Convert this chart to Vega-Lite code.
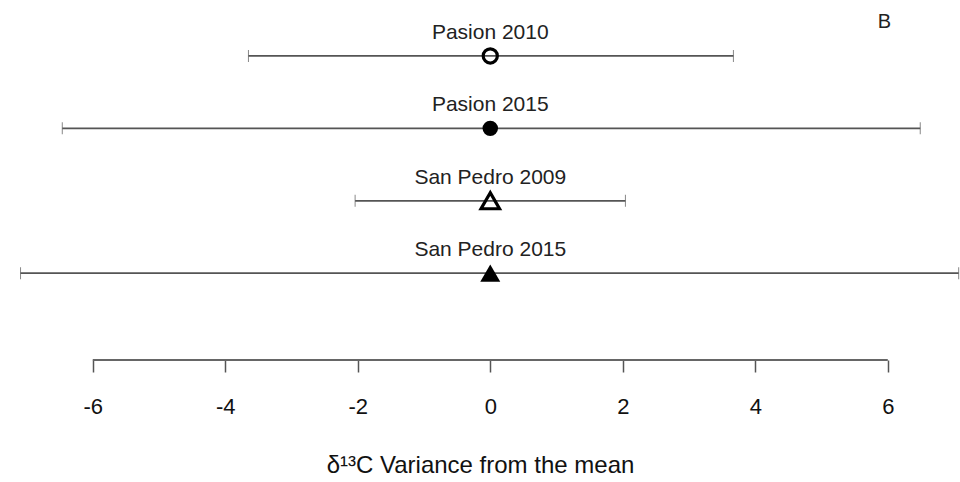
{
  "$schema": "https://vega.github.io/schema/vega-lite/v6.json",
  "width": 960,
  "height": 360,
  "autosize": {"type": "none"},
  "padding": {"left": 0, "top": 0, "right": 0, "bottom": 122},
  "config": {"view": {"stroke": null}, "font": "Liberation Sans"},
  "datasets": {
    "rows": [
      {"site": "Pasion 2010", "row": 4, "mean": 0, "lo": -3.65, "hi": 3.67, "shape": "circle", "filled": false},
      {"site": "Pasion 2015", "row": 3, "mean": 0, "lo": -6.46, "hi": 6.49, "shape": "circle", "filled": true},
      {"site": "San Pedro 2009", "row": 2, "mean": 0, "lo": -2.04, "hi": 2.04, "shape": "triangle-up", "filled": false},
      {"site": "San Pedro 2015", "row": 1, "mean": 0, "lo": -7.09, "hi": 7.07, "shape": "triangle-up", "filled": true}
    ]
  },
  "layer": [
    {
      "data": {"values": [{"a": -6, "b": 6, "y": -0.199}]},
      "mark": {"type": "rule", "color": "#666666", "strokeWidth": 2},
      "encoding": {
        "x": {"field": "a", "type": "quantitative", "scale": {"domain": [-7.4, 7.09], "nice": false, "zero": false},
          "axis": {"domain": false, "grid": false, "values": [-6, -4, -2, 0, 2, 4, 6], "labelExpr": "'' + datum.value", "tickSize": 12, "tickColor": "#555555", "tickWidth": 1.5,
            "labelFontSize": 22, "labelColor": "#111111", "labelPadding": 24, "title": "δ¹³C Variance from the mean", "titleFontSize": 24, "titleFontWeight": "normal", "titleColor": "#111111", "titlePadding": 36}},
        "x2": {"field": "b"},
        "y": {"field": "y", "type": "quantitative", "scale": {"domain": [-0.199, 4.773], "nice": false, "zero": false}, "axis": null}
      }
    },
    {
      "data": {"name": "rows"},
      "mark": {"type": "errorbar", "ticks": {"size": 12, "color": "#555555", "strokeWidth": 1.8}, "rule": {"color": "#555555", "strokeWidth": 1.8}},
      "encoding": {
        "x": {"field": "lo", "type": "quantitative", "title": "δ¹³C Variance from the mean"},
        "x2": {"field": "hi"},
        "y": {"field": "row", "type": "quantitative"}
      }
    },
    {
      "data": {"name": "rows"},
      "transform": [{"filter": "datum.filled && datum.shape == 'circle'"}],
      "mark": {"type": "point", "filled": true, "color": "black", "opacity": 1, "size": 240, "shape": "circle"},
      "encoding": {
        "x": {"field": "mean", "type": "quantitative", "title": "δ¹³C Variance from the mean"},
        "y": {"field": "row", "type": "quantitative"}
      }
    },
    {
      "data": {"name": "rows"},
      "transform": [{"filter": "datum.filled && datum.shape == 'triangle-up'"}],
      "mark": {"type": "point", "filled": true, "color": "black", "opacity": 1, "size": 400, "shape": "triangle-up"},
      "encoding": {
        "x": {"field": "mean", "type": "quantitative", "title": "δ¹³C Variance from the mean"},
        "y": {"field": "row", "type": "quantitative"}
      }
    },
    {
      "data": {"name": "rows"},
      "transform": [{"filter": "!datum.filled && datum.shape == 'circle'"}],
      "mark": {"type": "point", "filled": false, "color": "black", "opacity": 1, "strokeWidth": 3.2, "size": 200, "shape": "circle"},
      "encoding": {
        "x": {"field": "mean", "type": "quantitative", "title": "δ¹³C Variance from the mean"},
        "y": {"field": "row", "type": "quantitative"}
      }
    },
    {
      "data": {"name": "rows"},
      "transform": [{"filter": "!datum.filled && datum.shape == 'triangle-up'"}],
      "mark": {"type": "point", "filled": false, "color": "black", "opacity": 1, "strokeWidth": 3.2, "size": 340, "shape": "triangle-up"},
      "encoding": {
        "x": {"field": "mean", "type": "quantitative", "title": "δ¹³C Variance from the mean"},
        "y": {"field": "row", "type": "quantitative"}
      }
    },
    {
      "data": {"name": "rows"},
      "mark": {"type": "text", "fontSize": 21, "dy": -23, "color": "#222222"},
      "encoding": {
        "x": {"field": "mean", "type": "quantitative", "title": "δ¹³C Variance from the mean"},
        "y": {"field": "row", "type": "quantitative"},
        "text": {"field": "site"}
      }
    },
    {
      "data": {"values": [{"label": "B", "x": 5.95, "y": 4.47}]},
      "mark": {"type": "text", "fontSize": 20, "color": "#222222"},
      "encoding": {
        "x": {"field": "x", "type": "quantitative", "title": "δ¹³C Variance from the mean"},
        "y": {"field": "y", "type": "quantitative"},
        "text": {"field": "label"}
      }
    }
  ]
}
